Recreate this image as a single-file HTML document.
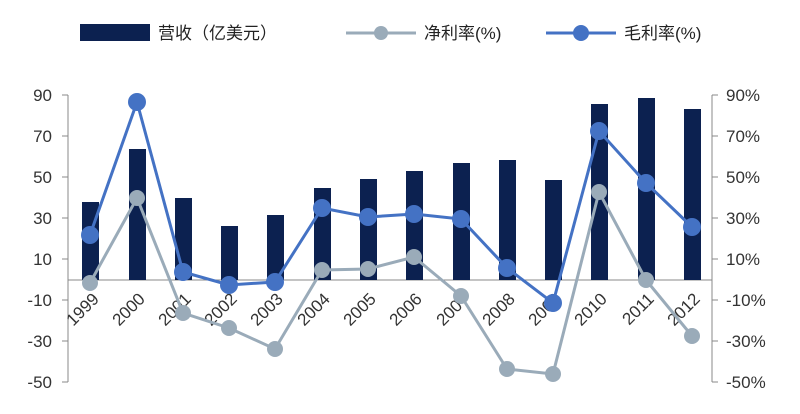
<!DOCTYPE html>
<html><head><meta charset="utf-8"><style>
body{margin:0;background:#fff;}
text{font-family:"Liberation Sans","Noto Sans CJK SC",sans-serif;}
</style></head><body>
<svg width="800" height="409" xmlns="http://www.w3.org/2000/svg">
<rect width="800" height="409" fill="#fff"/>
<!-- legend -->
<rect x="80" y="24" width="70" height="17" fill="#0c2150"/>
<text x="158" y="39" font-size="17" fill="#222">营收（亿美元）</text>
<line x1="346" y1="33" x2="416" y2="33" stroke="#9aabb9" stroke-width="3"/>
<circle cx="381" cy="33" r="7" fill="#9aabb9"/>
<text x="424" y="39" font-size="17" fill="#222">净利率(%)</text>
<line x1="546" y1="33" x2="616" y2="33" stroke="#4472c4" stroke-width="3"/>
<circle cx="581" cy="33" r="8" fill="#4472c4"/>
<text x="624" y="39" font-size="17" fill="#222">毛利率(%)</text>
<!-- axes -->
<g stroke="#888" stroke-width="1">
<line x1="68" y1="95" x2="68" y2="382"/>
<line x1="712" y1="95" x2="712" y2="382"/>
<line x1="68" y1="280" x2="712" y2="280"/>
</g>
<g stroke="#888">
<line x1="62" y1="95" x2="68" y2="95"/><line x1="62" y1="136" x2="68" y2="136"/><line x1="62" y1="177" x2="68" y2="177"/><line x1="62" y1="218" x2="68" y2="218"/><line x1="62" y1="259" x2="68" y2="259"/><line x1="62" y1="300" x2="68" y2="300"/><line x1="62" y1="341" x2="68" y2="341"/><line x1="62" y1="382" x2="68" y2="382"/>
<line x1="712" y1="95" x2="718" y2="95"/><line x1="712" y1="136" x2="718" y2="136"/><line x1="712" y1="177" x2="718" y2="177"/><line x1="712" y1="218" x2="718" y2="218"/><line x1="712" y1="259" x2="718" y2="259"/><line x1="712" y1="300" x2="718" y2="300"/><line x1="712" y1="341" x2="718" y2="341"/><line x1="712" y1="382" x2="718" y2="382"/>
</g>
<g font-size="17" fill="#333" text-anchor="end">
<text x="52" y="101">90</text><text x="52" y="142">70</text><text x="52" y="183">50</text><text x="52" y="224">30</text><text x="52" y="265">10</text><text x="52" y="306">-10</text><text x="52" y="347">-30</text><text x="52" y="388">-50</text>
</g>
<g font-size="17" fill="#333">
<text x="726" y="101">90%</text><text x="726" y="142">70%</text><text x="726" y="183">50%</text><text x="726" y="224">30%</text><text x="726" y="265">10%</text><text x="726" y="306">-10%</text><text x="726" y="347">-30%</text><text x="726" y="388">-50%</text>
</g>
<!-- bars -->
<g fill="#0c2150">
<rect x="82" y="202" width="17" height="78"/>
<rect x="129" y="149" width="17" height="131"/>
<rect x="175" y="198" width="17" height="82"/>
<rect x="221" y="226" width="17" height="54"/>
<rect x="267" y="215" width="17" height="65"/>
<rect x="314" y="188" width="17" height="92"/>
<rect x="360" y="179" width="17" height="101"/>
<rect x="406" y="171" width="17" height="109"/>
<rect x="453" y="163" width="17" height="117"/>
<rect x="499" y="160" width="17" height="120"/>
<rect x="545" y="180" width="17" height="100"/>
<rect x="591" y="104" width="17" height="176"/>
<rect x="638" y="98" width="17" height="182"/>
<rect x="684" y="109" width="17" height="171"/>
</g>
<!-- x labels -->
<g font-size="17" fill="#333" text-anchor="end">
<text transform="translate(100,300) rotate(-45)">1999</text>
<text transform="translate(146,300) rotate(-45)">2000</text>
<text transform="translate(192,300) rotate(-45)">2001</text>
<text transform="translate(238,300) rotate(-45)">2002</text>
<text transform="translate(284,300) rotate(-45)">2003</text>
<text transform="translate(331,300) rotate(-45)">2004</text>
<text transform="translate(377,300) rotate(-45)">2005</text>
<text transform="translate(423,300) rotate(-45)">2006</text>
<text transform="translate(470,300) rotate(-45)">2007</text>
<text transform="translate(516,300) rotate(-45)">2008</text>
<text transform="translate(562,300) rotate(-45)">2009</text>
<text transform="translate(608,300) rotate(-45)">2010</text>
<text transform="translate(655,300) rotate(-45)">2011</text>
<text transform="translate(701,300) rotate(-45)">2012</text>
</g>
<!-- net -->
<polyline fill="none" stroke="#9aabb9" stroke-width="3" points="90,283 137,198 183,313 229,328 275,349 322,270 368,269 414,257 461,296 507,369 553,374 599,192 646,280 692,336"/>
<g fill="#9aabb9">
<circle cx="90" cy="283" r="8"/><circle cx="137" cy="198" r="8"/><circle cx="183" cy="313" r="8"/><circle cx="229" cy="328" r="8"/><circle cx="275" cy="349" r="8"/><circle cx="322" cy="270" r="8"/><circle cx="368" cy="269" r="8"/><circle cx="414" cy="257" r="8"/><circle cx="461" cy="296" r="8"/><circle cx="507" cy="369" r="8"/><circle cx="553" cy="374" r="8"/><circle cx="599" cy="192" r="8"/><circle cx="646" cy="280" r="8"/><circle cx="692" cy="336" r="8"/>
</g>
<!-- gross -->
<polyline fill="none" stroke="#4472c4" stroke-width="3" points="90,235 137,102 183,272 229,285 275,282 322,208 368,217 414,214 461,219 507,268 553,303 599,131 646,183 692,227"/>
<g fill="#4472c4">
<circle cx="90" cy="235" r="9"/><circle cx="137" cy="102" r="9"/><circle cx="183" cy="272" r="9"/><circle cx="229" cy="285" r="9"/><circle cx="275" cy="282" r="9"/><circle cx="322" cy="208" r="9"/><circle cx="368" cy="217" r="9"/><circle cx="414" cy="214" r="9"/><circle cx="461" cy="219" r="9"/><circle cx="507" cy="268" r="9"/><circle cx="553" cy="303" r="9"/><circle cx="599" cy="131" r="9"/><circle cx="646" cy="183" r="9"/><circle cx="692" cy="227" r="9"/>
</g>
</svg>
</body></html>
